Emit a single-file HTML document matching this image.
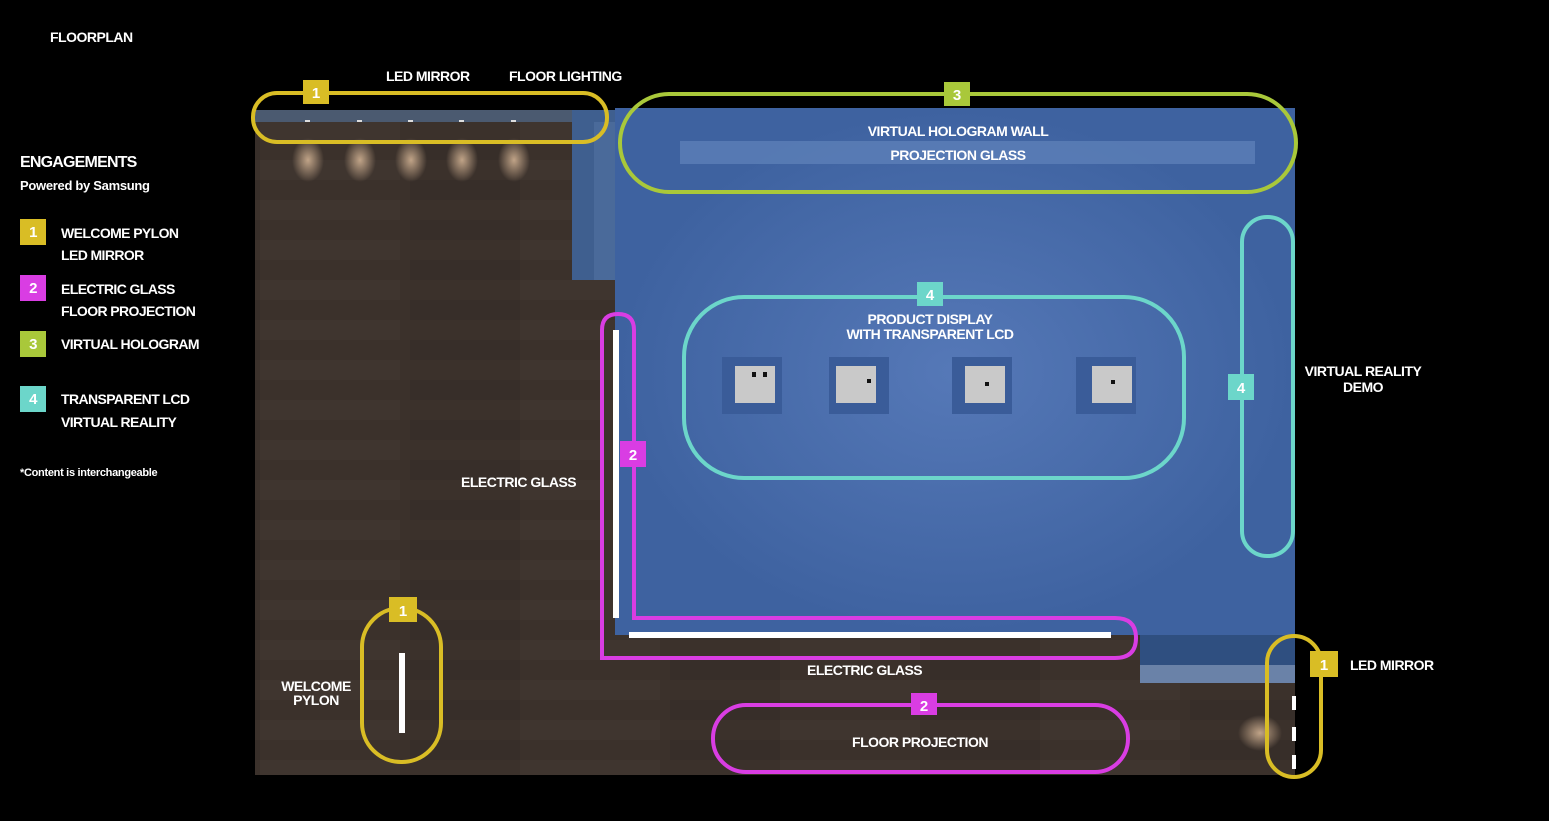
<!DOCTYPE html>
<html><head><style>
html,body{margin:0;padding:0;background:#000;}
body{width:1549px;height:816px;overflow:hidden;}
svg text{font-family:"Liberation Sans",sans-serif;font-weight:bold;fill:#fff;}
</style></head><body>
<svg width="1549" height="816" viewBox="0 0 1549 816" xmlns="http://www.w3.org/2000/svg">
<defs>
<radialGradient id="lamp" cx="50%" cy="50%" r="50%"><stop offset="0" stop-color="#d8b898" stop-opacity="0.85"/><stop offset="1" stop-color="#d8b898" stop-opacity="0"/></radialGradient>
<radialGradient id="glow" cx="50%" cy="50%" r="50%"><stop offset="0" stop-color="#6d8fcf" stop-opacity="0.5"/><stop offset="1" stop-color="#6d8fcf" stop-opacity="0"/></radialGradient>
<pattern id="wood" width="260" height="40" patternUnits="userSpaceOnUse"><rect width="260" height="40" fill="#3b312b"/><rect x="0" y="0" width="140" height="20" fill="#3f352f"/><rect x="150" y="20" width="110" height="20" fill="#372e29"/></pattern>
</defs>
<rect width="1549" height="816" fill="#000"/>
<rect x="255" y="110" width="1040" height="665" fill="url(#wood)"/>
<rect x="255" y="110" width="360" height="12" fill="#4b5a70"/>
<rect x="572" y="110" width="43" height="170" fill="#3f5f8f"/>
<rect x="594" y="122" width="21" height="158" fill="#4a6a9a"/>
<rect x="615" y="108" width="680" height="527" fill="#3e62a0"/>
<rect x="615" y="108" width="680" height="527" fill="url(#glow)"/>
<rect x="1140" y="635" width="155" height="30" fill="#2f4f80"/>
<rect x="1140" y="665" width="155" height="18" fill="#6a82a8"/>
<g fill="url(#lamp)"><ellipse cx="308" cy="160" rx="16" ry="22"/><ellipse cx="360" cy="160" rx="16" ry="22"/><ellipse cx="411" cy="160" rx="16" ry="22"/><ellipse cx="462" cy="160" rx="16" ry="22"/><ellipse cx="514" cy="160" rx="16" ry="22"/><ellipse cx="1260" cy="733" rx="22" ry="18"/></g>
<g fill="#ddd"><rect x="305" y="120" width="5" height="2"/><rect x="357" y="120" width="5" height="2"/><rect x="408" y="120" width="5" height="2"/><rect x="459" y="120" width="5" height="2"/><rect x="511" y="120" width="5" height="2"/></g>
<rect x="680" y="141" width="575" height="23" fill="#5c7fb8" opacity="0.8"/>
<g>
<rect x="722" y="357" width="60" height="57" fill="#3a5c99"/><rect x="735" y="366" width="40" height="37" fill="#c9c9c9"/>
<rect x="829" y="357" width="60" height="57" fill="#3a5c99"/><rect x="836" y="366" width="40" height="37" fill="#c9c9c9"/>
<rect x="952" y="357" width="60" height="57" fill="#3a5c99"/><rect x="965" y="366" width="40" height="37" fill="#c9c9c9"/>
<rect x="1076" y="357" width="60" height="57" fill="#3a5c99"/><rect x="1092" y="366" width="40" height="37" fill="#c9c9c9"/>
<g fill="#111"><rect x="752" y="372" width="4" height="5"/><rect x="763" y="372" width="4" height="5"/><rect x="867" y="379" width="4" height="4"/><rect x="985" y="382" width="4" height="4"/><rect x="1111" y="380" width="4" height="4"/></g>
</g>
<rect x="613" y="330" width="6" height="288" fill="#fff"/>
<rect x="629" y="632" width="482" height="6" fill="#fff"/>
<rect x="399" y="653" width="6" height="80" fill="#fff"/>
<g fill="#fff"><rect x="1292" y="696" width="4" height="14"/><rect x="1292" y="727" width="4" height="14"/><rect x="1292" y="755" width="4" height="14"/></g>
<g fill="none" stroke-width="4">
<rect x="253" y="93" width="354" height="49" rx="24" stroke="#d9bd25"/>
<rect x="620" y="94" width="676" height="98" rx="49" stroke="#a9c83a"/>
<rect x="1242" y="217" width="51" height="339" rx="25" stroke="#6cd6ca"/>
<rect x="684" y="297" width="500" height="181" rx="60" stroke="#6cd6ca"/>
<rect x="362" y="608" width="79" height="154" rx="39" stroke="#d9bd25"/>
<rect x="1267" y="636" width="54" height="141" rx="27" stroke="#d9bd25"/>
<rect x="713" y="705" width="415" height="67" rx="33" stroke="#d93de3"/>
<path d="M602 658 L602 330 Q602 314 618 314 Q634 314 634 330 L634 618 L1115 618 Q1136 618 1136 638 Q1136 658 1115 658 Z" stroke="#d93de3"/>
</g>
<g font-size="15">
<rect x="303" y="80" width="26" height="24" fill="#d9bd25"/><text x="316" y="98" text-anchor="middle" font-weight="normal">1</text>
<rect x="944" y="82" width="26" height="24" fill="#a9c83a"/><text x="957" y="100" text-anchor="middle" font-weight="normal">3</text>
<rect x="917" y="282" width="26" height="24" fill="#6cd6ca"/><text x="930" y="300" text-anchor="middle" font-weight="normal">4</text>
<rect x="1228" y="374" width="26" height="26" fill="#6cd6ca"/><text x="1241" y="393" text-anchor="middle" font-weight="normal">4</text>
<rect x="620" y="441" width="26" height="26" fill="#d93de3"/><text x="633" y="460" text-anchor="middle" font-weight="normal">2</text>
<rect x="389" y="597" width="28" height="25" fill="#d9bd25"/><text x="403" y="616" text-anchor="middle" font-weight="normal">1</text>
<rect x="1310" y="651" width="28" height="26" fill="#d9bd25"/><text x="1324" y="670" text-anchor="middle" font-weight="normal">1</text>
<rect x="911" y="693" width="26" height="22" fill="#d93de3"/><text x="924" y="711" text-anchor="middle" font-weight="normal">2</text>
</g>
<g font-size="14" letter-spacing="-0.5">
<text x="50" y="42">FLOORPLAN</text>
<text x="386" y="81">LED MIRROR</text>
<text x="509" y="81">FLOOR LIGHTING</text>
<text x="958" y="136" text-anchor="middle">VIRTUAL HOLOGRAM WALL</text>
<text x="958" y="160" text-anchor="middle">PROJECTION GLASS</text>
<text x="930" y="324" text-anchor="middle">PRODUCT DISPLAY</text>
<text x="930" y="339" text-anchor="middle">WITH TRANSPARENT LCD</text>
<text x="1363" y="376" text-anchor="middle">VIRTUAL REALITY</text>
<text x="1363" y="392" text-anchor="middle">DEMO</text>
<text x="461" y="487">ELECTRIC GLASS</text>
<text x="807" y="675">ELECTRIC GLASS</text>
<text x="1350" y="670">LED MIRROR</text>
<text x="316" y="691" text-anchor="middle">WELCOME</text>
<text x="316" y="705" text-anchor="middle">PYLON</text>
<text x="920" y="747" text-anchor="middle">FLOOR PROJECTION</text>
</g>
<text x="20" y="167" font-size="16" letter-spacing="-0.8">ENGAGEMENTS</text>
<text x="20" y="190" font-size="13" font-weight="normal" letter-spacing="-0.3">Powered by Samsung</text>
<g font-size="15" letter-spacing="-0.6" font-weight="normal">
<rect x="20" y="219" width="26" height="26" fill="#d9bd25"/><text x="33" y="237" text-anchor="middle">1</text>
<rect x="20" y="275" width="26" height="26" fill="#d93de3"/><text x="33" y="293" text-anchor="middle">2</text>
<rect x="20" y="331" width="26" height="26" fill="#a9c83a"/><text x="33" y="349" text-anchor="middle">3</text>
<rect x="20" y="386" width="26" height="26" fill="#6cd6ca"/><text x="33" y="404" text-anchor="middle">4</text>
</g>
<g font-size="14" letter-spacing="-0.6">
<text x="61" y="238">WELCOME PYLON</text><text x="61" y="260">LED MIRROR</text>
<text x="61" y="294">ELECTRIC GLASS</text><text x="61" y="316">FLOOR PROJECTION</text>
<text x="61" y="349">VIRTUAL HOLOGRAM</text>
<text x="61" y="404">TRANSPARENT LCD</text><text x="61" y="427">VIRTUAL REALITY</text>
</g>
<text x="20" y="476" font-size="11" letter-spacing="-0.3">*Content is interchangeable</text>
</svg>
</body></html>
